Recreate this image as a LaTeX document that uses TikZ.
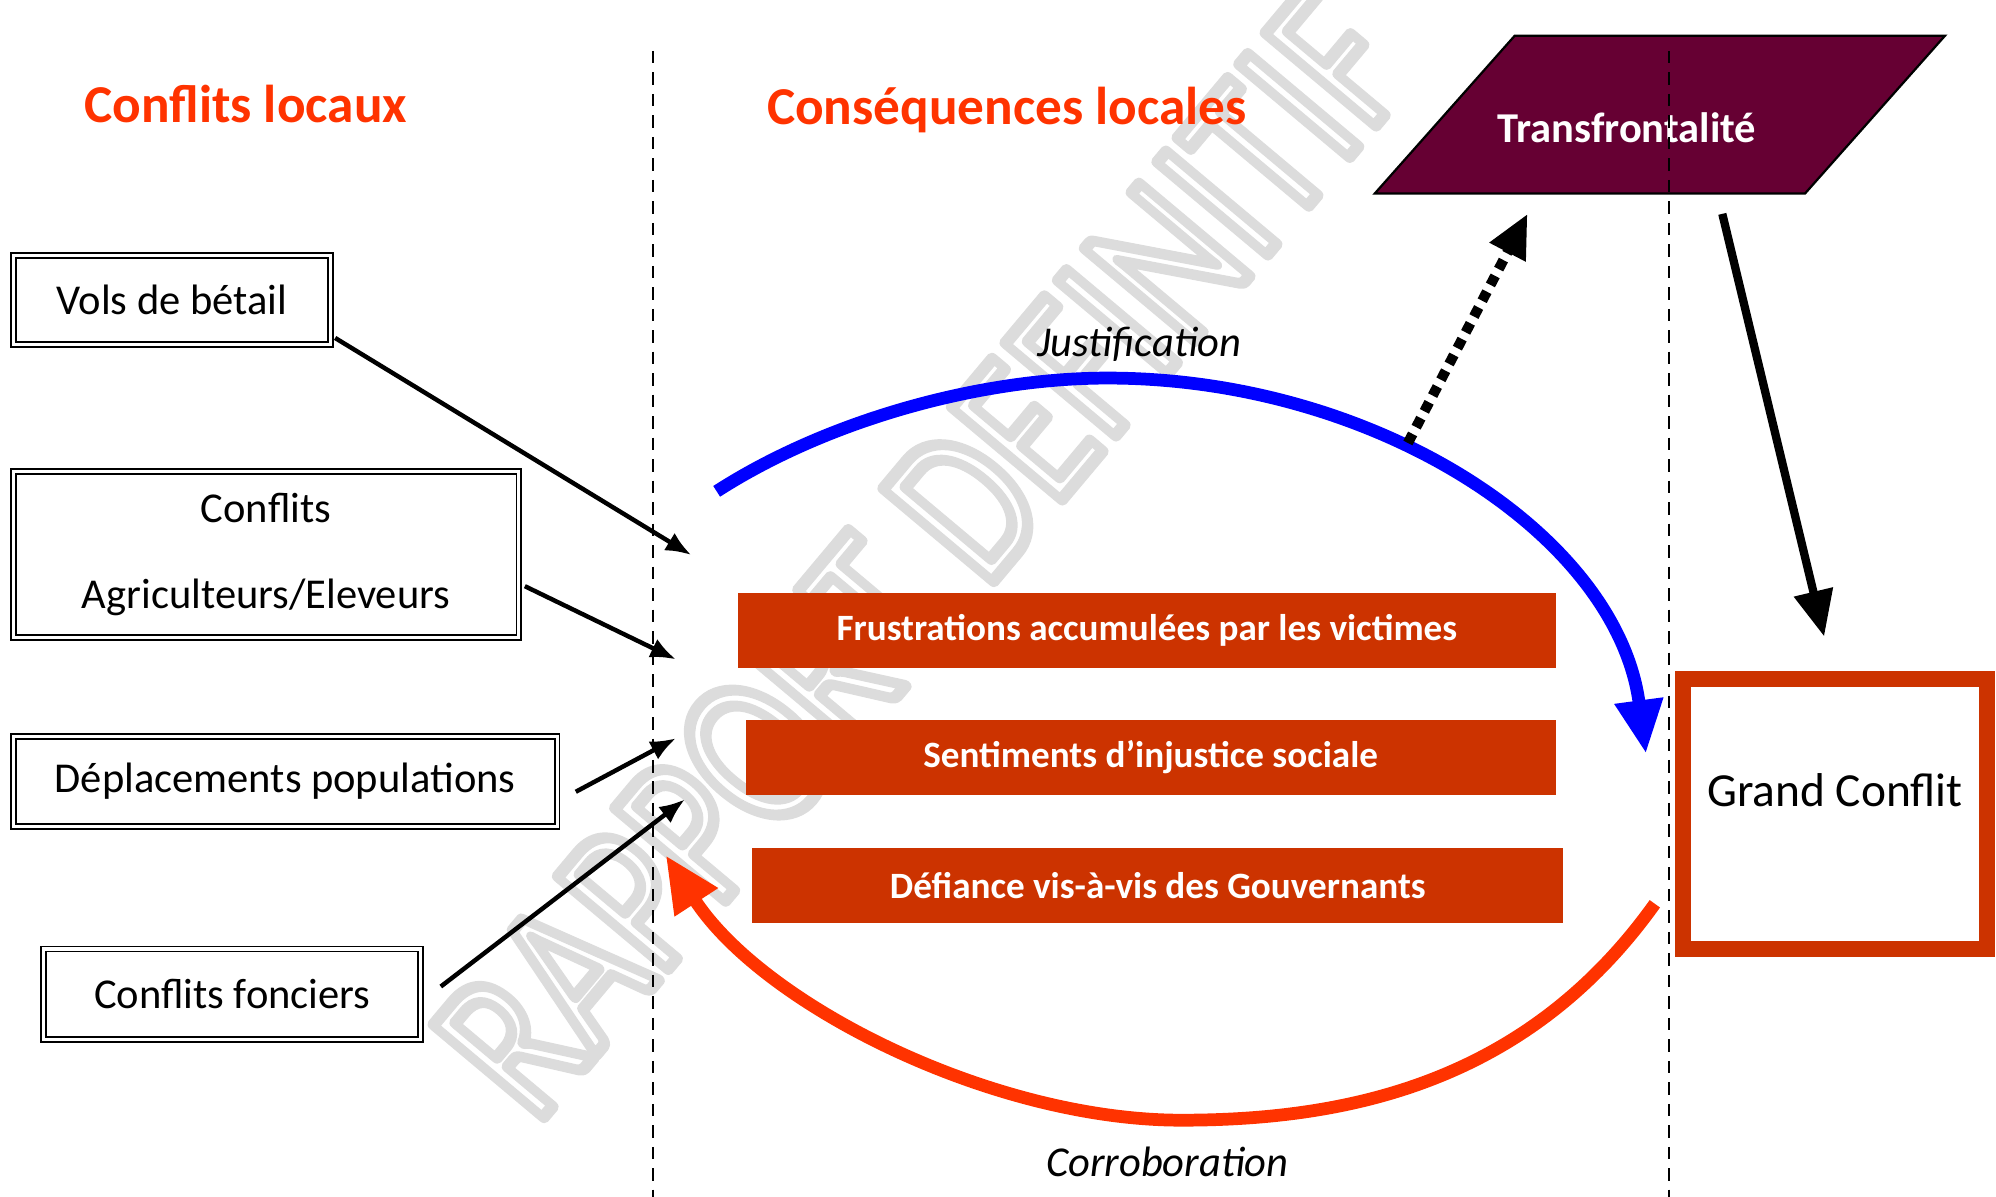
\documentclass[tikz,border=0pt]{standalone}
\usepackage{fontspec}
\setmainfont{Carlito}
\usepackage{tikz}
\usetikzlibrary{arrows.meta,positioning}
\definecolor{headred}{HTML}{FF3300}
\definecolor{barred}{HTML}{CC3300}
\definecolor{transred}{HTML}{660033}
\definecolor{arcblue}{HTML}{0000FF}
\definecolor{markgray}{HTML}{DCDCDC}
% hollow letters for the stamp
\newcommand{\hollowtext}[1]{\special{pdf:literal direct 1 Tr 2.8 w 1 j}#1\special{pdf:literal direct 0 Tr 0.4 w 0 j}}

\begin{document}
\begin{tikzpicture}
    %% setup
    [
        x=0.01cm, y=-0.01cm,
        framebox/.style={draw, line width=0.4pt, double, double distance=0.7pt, inner sep=0pt, align=center, font=\fontsize{9.5}{11.5}\selectfont},
        redbar/.style={fill=barred, inner sep=0pt, minimum height=0.59cm, text=white, font=\bfseries\fontsize{8.3}{10}\selectfont},
        bigbox/.style={draw=barred, line width=0.125cm, minimum width=2.385cm, minimum height=2.125cm, text depth=0.37cm, font=\fontsize{10.6}{12.5}\selectfont},
        heading/.style={text=headred, anchor=base, font=\bfseries\fontsize{11.9}{14}\selectfont},
        arclabel/.style={anchor=base, font=\itshape\fontsize{9.5}{11.5}\selectfont},
        watermark/.style={anchor=base west, rotate=50, inner sep=0pt, text=markgray, font=\fontsize{50}{52}\selectfont},
        sepline/.style={line width=0.6pt, dash pattern=on 2.8pt off 2pt},
        thinarrow/.style={-{Latex[length=0.2cm, width=0.16cm]}, line width=0.035cm},
        justarc/.style={draw=arcblue, line width=0.1cm, -{Triangle[length=0.42cm, width=0.36cm]}},
        corrarc/.style={draw=headred, line width=0.1cm, -{Triangle[length=0.44cm, width=0.38cm]}},
        dotarrow/.style={line width=0.08cm, dash pattern=on 0.08cm off 0.06cm, -{Triangle[length=0.34cm, width=0.3cm]}},
        bigarrow/.style={line width=0.065cm, -{Triangle[length=0.36cm, width=0.3cm]}},
    ]
    \useasboundingbox (0,0) rectangle (1568,940);

    %% Watermark
    \begin{scope}
        \clip (0,0) rectangle (1568,940);
        \node [watermark] (stamp) at (420,886) {\hollowtext{\scalebox{0.77}[1]{RAPPORT DEFINITIF}}};
    \end{scope}

    %% Nodes
    \node [heading] (titleLocal) at (193,96) {Conflits locaux};
    \node [heading] (titleConseq) at (791,98) {Conséquences locales};

    \node [framebox, minimum width=2.49cm, minimum height=0.70cm] (volsBetail) at (135,235.5) {Vols de bétail};
    \node [framebox, minimum width=3.97cm, minimum height=1.30cm] (agriElev) at (209,435.5) {Conflits\\[7.6pt]Agriculteurs/Eleveurs};
    \node [framebox, minimum width=4.27cm, minimum height=0.71cm] (deplacements) at (224,614) {Déplacements populations};
    \node [framebox, minimum width=2.96cm, minimum height=0.71cm] (foncier) at (182.5,781) {Conflits fonciers};

    \node [redbar, minimum width=6.42cm] (frustrations) at (901,495.5) {Frustrations accumulées par les victimes};
    \node [redbar, minimum width=6.36cm] (injustice) [below=0.39cm of frustrations, xshift=0.03cm] {Sentiments d’injustice sociale};
    \node [redbar, minimum width=6.37cm] (defiance) [below=0.40cm of injustice, xshift=0.055cm] {Défiance vis-à-vis des Gouvernants};

    \filldraw [fill=transred, draw=black, line width=0.5pt] (1080,152) -- (1190,28) -- (1528,28) -- (1418,152) -- cycle;
    \node [text=white, font=\bfseries\fontsize{9.5}{11.5}\selectfont] (transfront) at (1278,100) {Transfrontalité};

    \node [bigbox] (grandConflit) at (1441.5,639.5) {Grand Conflit};

    \node [arclabel] (justif) at (895,280) {Justification};
    \node [arclabel] (corrob) at (917,924) {Corroboration};

    %% Separators
    \draw [sepline] (513,40) -- (513,940);
    \draw [sepline] (1311,40) -- (1311,940);

    %% Coordinates
    \coordinate (inVols) at (543,436);
    \coordinate (inAgri) at (531,518);
    \coordinate (inDepl) at (531,580);
    \coordinate (inFonc) at (538,628);
    \coordinate (justStart) at (563,386);
    \coordinate (justTop) at (870,297);
    \coordinate (justEnd) at (1293,592);
    \coordinate (justOut) at (1106,348);
    \coordinate (corrStart) at (1300,710);
    \coordinate (corrLow) at (928,880);
    \coordinate (corrEnd) at (523,672);
    \coordinate (transIn) at (1200,168);
    \coordinate (transOut) at (1353,168);
    \coordinate (conflitIn) at (1433,500);

    %% Lines
    \draw [thinarrow] ([shift={(3,30)}]volsBetail.east) -- (inVols);
    \draw [thinarrow] ([shift={(4,25)}]agriElev.east) -- (inAgri);
    \draw [thinarrow] ([shift={(14,8)}]deplacements.east) -- (inDepl);
    \draw [thinarrow] ([shift={(15,-6)}]foncier.east) -- (inFonc);

    \draw [justarc] (justStart) .. controls (650,330) and (770,297) .. (justTop) .. controls (1080,297) and (1270,420) .. (justEnd);
    \draw [corrarc] (corrStart) .. controls (1200,850) and (1060,880) .. (corrLow) .. controls (780,880) and (600,790) .. (corrEnd);

    \draw [dotarrow] (justOut) -- (transIn);
    \draw [bigarrow] (transOut) -- (conflitIn);

\end{tikzpicture}
\end{document}
